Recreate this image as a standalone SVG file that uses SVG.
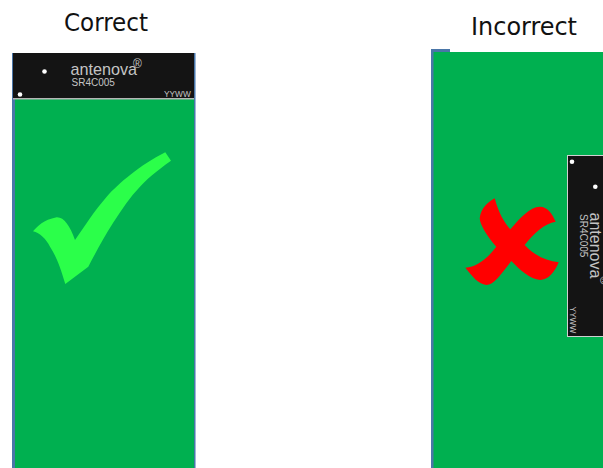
<svg xmlns="http://www.w3.org/2000/svg" width="603" height="468" viewBox="0 0 603 468">
<style>
.t{font-family:"DejaVu Sans Condensed","DejaVu Sans",sans-serif;font-size:25.5px;fill:#111}
.a{font-family:"Liberation Sans",Arial,sans-serif;fill:#c4c4c4}
.dot{fill:#fff}
.blue{fill:#4a76a8}
.green{fill:#00b050}
</style>
<rect width="603" height="468" fill="#fff"/>
<g id="correct-label"><text class="t" x="64" y="31" textLength="84" lengthAdjust="spacingAndGlyphs">Correct</text></g>
<g id="incorrect-label"><text class="t" x="471" y="35" textLength="106" lengthAdjust="spacingAndGlyphs">Incorrect</text></g>
<g id="correct-board">
<rect class="blue" x="12" y="53" width="184" height="415"/>
<rect x="195" y="53" width="1" height="415" fill="#9db8d8"/>
<rect class="green" x="15" y="99" width="179" height="369"/>
</g>
<g id="correct-chip">
<rect x="13" y="53" width="181" height="46" fill="#141414"/>
<rect x="13" y="98" width="181" height="1.5" fill="#b5b5b5"/>
<circle class="dot" cx="44.500" cy="71.500" r="2.300"/>
<circle class="dot" cx="20" cy="94.500" r="2.300"/>
<text class="a" x="70.500" y="75" font-size="16.200">antenova</text>
<text class="a" x="71.500" y="86" font-size="10">SR4C005</text>
<text class="a" x="164" y="96.500" font-size="8.300">YYWW</text>
<text class="a" x="133" y="67.500" font-size="12">®</text>
</g>
<g id="check"><path d="M165.300 152.300L171 160.700C155 172 146 180 140 186.700C130 197 122 209 113 223C104 237 96 252 88.300 266.700L65.300 284C60 266 56 256 50 246.700C46 239 40 233 33 231.300C38 226 43 220 56.700 217.300C64 217 70 226 75 240C84 227 95 210 106.700 196.700C118 184 140 165 165.300 152.300Z" fill="#2bff4a"/></g>
<g id="incorrect-board">
<rect class="blue" x="431" y="49" width="19" height="3"/>
<rect class="blue" x="431" y="49" width="3" height="419"/>
<rect class="green" x="433.500" y="52" width="169.500" height="416"/>
</g>
<g id="incorrect-chip">
<rect x="567.500" y="155.500" width="36" height="181" fill="#141414" stroke="#d0d0d0"/>
<circle class="dot" cx="572" cy="161.700" r="2.300"/>
<circle class="dot" cx="595.300" cy="186.700" r="2.300"/>
<text class="a" transform="translate(590.300 212.500) rotate(90)" font-size="16">antenova</text>
<text class="a" transform="translate(579.700 214) rotate(90)" font-size="10">SR4C005</text>
<text class="a" transform="translate(570.300 306.500) rotate(90)" font-size="8.300">YYWW</text>
<text class="a" transform="translate(600 276) rotate(90)" font-size="12">®</text>
</g>
<g id="cross"><path d="M494.700 198.300C499 214 504 222 510.300 229.300C520 218 530 207 539.700 206.700C547 206.500 552 213 555.700 221.700C545 223 533 234 524.700 245C534 255 546 261 558.700 262.300C555 272 548 280 540.300 280C530 279 520 270 511.300 261C502 273 494 285 486.300 285C478 284 472 276 465.300 267.700C477 267 488 258 496.300 246.700C487 236 480 225 479.700 218.300C481 208 488 202 494.700 198.300Z" fill="#ff0000"/></g>
</svg>
